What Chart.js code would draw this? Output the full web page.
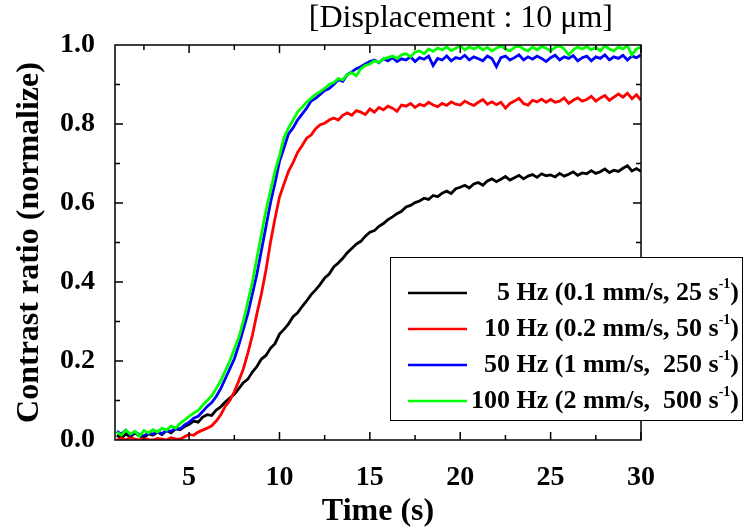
<!DOCTYPE html>
<html>
<head>
<meta charset="utf-8">
<script src="https://cdn.jsdelivr.net/npm/chart.js@4"></script>
<style>
  html, body { margin: 0; padding: 0; background: #fff; }
  #wrap { width: 745px; height: 531px; }
</style>
</head>
<body>
<div id="wrap"><canvas id="contrastChart" width="745" height="531"></canvas></div>
<script>
// time in seconds, one row = 2 s
const time = [
  1, 1.25, 1.5, 1.75, 2, 2.25, 2.5, 2.75,
  3, 3.25, 3.5, 3.75, 4, 4.25, 4.5, 4.75,
  5, 5.25, 5.5, 5.75, 6, 6.25, 6.5, 6.75,
  7, 7.25, 7.5, 7.75, 8, 8.25, 8.5, 8.75,
  9, 9.25, 9.5, 9.75, 10, 10.25, 10.5, 10.75,
  11, 11.25, 11.5, 11.75, 12, 12.25, 12.5, 12.75,
  13, 13.25, 13.5, 13.75, 14, 14.25, 14.5, 14.75,
  15, 15.25, 15.5, 15.75, 16, 16.25, 16.5, 16.75,
  17, 17.25, 17.5, 17.75, 18, 18.25, 18.5, 18.75,
  19, 19.25, 19.5, 19.75, 20, 20.25, 20.5, 20.75,
  21, 21.25, 21.5, 21.75, 22, 22.25, 22.5, 22.75,
  23, 23.25, 23.5, 23.75, 24, 24.25, 24.5, 24.75,
  25, 25.25, 25.5, 25.75, 26, 26.25, 26.5, 26.75,
  27, 27.25, 27.5, 27.75, 28, 28.25, 28.5, 28.75,
  29, 29.25, 29.5, 29.75, 30];

const hz5 = [
  0.012, 0.005, 0.015, 0.008, 0.018, 0.01, 0.006, 0.016,
  0.012, 0.02, 0.014, 0.024, 0.018, 0.028, 0.026, 0.034,
  0.04, 0.048, 0.045, 0.058, 0.064, 0.062, 0.076, 0.084,
  0.096, 0.106, 0.116, 0.13, 0.145, 0.154, 0.172, 0.186,
  0.205, 0.214, 0.232, 0.244, 0.268, 0.28, 0.294, 0.312,
  0.322, 0.338, 0.352, 0.368, 0.38, 0.394, 0.41, 0.42,
  0.438, 0.448, 0.46, 0.474, 0.485, 0.496, 0.503, 0.516,
  0.526, 0.53, 0.541, 0.548, 0.558, 0.565, 0.573, 0.579,
  0.59, 0.594, 0.601, 0.605, 0.612, 0.609, 0.619, 0.616,
  0.625, 0.63, 0.624, 0.636, 0.64, 0.645, 0.638, 0.648,
  0.652, 0.645, 0.656, 0.661, 0.654, 0.66, 0.667, 0.658,
  0.664, 0.67, 0.661, 0.668, 0.672, 0.665, 0.674, 0.669,
  0.671, 0.666, 0.675, 0.668, 0.673, 0.679, 0.67, 0.676,
  0.674, 0.682, 0.675, 0.679, 0.686, 0.677, 0.683, 0.68,
  0.688, 0.694, 0.681, 0.687, 0.68];

const hz10 = [
  0.0, 0.004, 0.0, 0.006, 0.002, 0.0, 0.005, 0.001,
  0.0, 0.004, 0.002, 0.0, 0.006, 0.003, 0.002, 0.008,
  0.014, 0.012, 0.02, 0.025, 0.03, 0.036, 0.048, 0.064,
  0.085, 0.1, 0.122, 0.15, 0.18, 0.22, 0.265, 0.32,
  0.37, 0.43, 0.5, 0.56, 0.615, 0.648, 0.68, 0.702,
  0.728, 0.745, 0.764, 0.772, 0.788, 0.798, 0.802, 0.81,
  0.815, 0.81, 0.822, 0.828, 0.822, 0.834, 0.83, 0.824,
  0.838, 0.83, 0.842, 0.836, 0.845, 0.84, 0.832, 0.848,
  0.845, 0.852, 0.842, 0.85, 0.846, 0.855, 0.848, 0.844,
  0.852, 0.847, 0.856, 0.85, 0.848, 0.858, 0.852, 0.847,
  0.855, 0.862, 0.85, 0.856, 0.849, 0.855, 0.84, 0.852,
  0.858, 0.865, 0.852, 0.848, 0.86, 0.856, 0.863, 0.855,
  0.862, 0.855, 0.858, 0.866, 0.852, 0.86, 0.866, 0.858,
  0.862, 0.87, 0.858, 0.866, 0.872, 0.86, 0.868, 0.876,
  0.868, 0.878, 0.864, 0.874, 0.86];

const hz50 = [
  0.022, 0.015, 0.025, 0.012, 0.02, 0.014, 0.01, 0.018,
  0.015, 0.022, 0.016, 0.024, 0.022, 0.03, 0.028, 0.038,
  0.045, 0.055, 0.06, 0.072, 0.085, 0.095, 0.11, 0.13,
  0.155, 0.18, 0.205, 0.24, 0.28, 0.32, 0.37, 0.42,
  0.48, 0.54, 0.6, 0.65, 0.705, 0.74, 0.775, 0.79,
  0.81, 0.825, 0.84, 0.858, 0.865, 0.875, 0.885, 0.89,
  0.9, 0.912, 0.908, 0.925, 0.932, 0.94, 0.945, 0.952,
  0.958, 0.962, 0.955, 0.965, 0.96, 0.968, 0.958, 0.965,
  0.962, 0.97, 0.958, 0.968, 0.964, 0.972, 0.948, 0.966,
  0.962, 0.972, 0.96, 0.968, 0.965, 0.974, 0.962, 0.97,
  0.965, 0.96, 0.972, 0.966, 0.945, 0.968, 0.972, 0.962,
  0.968, 0.975, 0.962, 0.97, 0.964, 0.972, 0.966, 0.958,
  0.968, 0.974, 0.962, 0.97, 0.966, 0.973, 0.96, 0.968,
  0.972, 0.96, 0.97, 0.966, 0.975, 0.962, 0.97, 0.966,
  0.974, 0.962, 0.972, 0.968, 0.975];

const hz100 = [
  0.02, 0.012, 0.025, 0.015, 0.022, 0.01, 0.024, 0.018,
  0.026, 0.02, 0.03, 0.025, 0.035, 0.03, 0.042, 0.05,
  0.06, 0.068, 0.075, 0.088, 0.1, 0.112, 0.13, 0.15,
  0.175, 0.2, 0.23, 0.26, 0.3, 0.35, 0.4, 0.46,
  0.52, 0.58, 0.63, 0.68, 0.72, 0.765, 0.79, 0.81,
  0.83, 0.842, 0.855, 0.865, 0.875, 0.882, 0.89, 0.9,
  0.905, 0.915, 0.912, 0.925, 0.93, 0.922, 0.94, 0.948,
  0.952, 0.96, 0.956, 0.965, 0.968, 0.972, 0.966, 0.975,
  0.978, 0.97, 0.982, 0.985, 0.978, 0.99, 0.984, 0.992,
  0.988, 0.995, 0.986, 0.992, 0.998, 0.988, 0.995, 0.99,
  0.996, 0.988, 0.994, 0.985, 0.992, 0.998, 0.99, 0.985,
  0.994, 0.998, 0.99, 0.985, 0.995, 0.988, 0.996, 0.992,
  0.985, 0.994, 0.998, 0.99, 0.975, 0.988, 0.995, 0.99,
  0.996, 0.988, 0.994, 0.985, 0.998, 0.99, 0.985, 0.995,
  0.99, 0.998, 0.975, 0.99, 0.995];

const xTicks = [5, 10, 15, 20, 25, 30];
const yTicks = [0, 0.2, 0.4, 0.6, 0.8, 1.0];
const seriesNames = ['5 Hz (0.1 mm/s, 25 s', '10 Hz (0.2 mm/s, 50 s', '50 Hz (1 mm/s,  250 s', '100 Hz (2 mm/s,  500 s'];
const seriesColors = ['#000000', '#ff0000', '#0000ff', '#00ff00'];
const seriesData = [hz5, hz10, hz50, hz100];

const serif = "'Liberation Serif', 'Times New Roman', serif";

// box, inward ticks, title text and legend
const framePlugin = {
  id: 'framePlugin',
  afterDraw(chart) {
    const {ctx, chartArea: {top, bottom, left, right}, scales: {x, y}} = chart;
    ctx.save();
    ctx.strokeStyle = '#000';
    ctx.lineWidth = 1.5;
    ctx.strokeRect(left, top, right - left, bottom - top);
    ctx.beginPath();
    for (let v = 2.5; v <= 30; v += 2.5) {
      const px = x.getPixelForValue(v);
      const len = v % 5 === 0 ? 8 : 5;
      ctx.moveTo(px, bottom); ctx.lineTo(px, bottom - len);
      ctx.moveTo(px, top); ctx.lineTo(px, top + len);
    }
    for (let i = 1; i < 10; i++) {
      const py = y.getPixelForValue(i / 10);
      const len = i % 2 === 0 ? 8 : 5;
      ctx.moveTo(left, py); ctx.lineTo(left + len, py);
      ctx.moveTo(right, py); ctx.lineTo(right - len, py);
    }
    ctx.stroke();

    ctx.fillStyle = '#000';
    ctx.font = '32px ' + serif;
    ctx.textAlign = 'right';
    ctx.textBaseline = 'middle';
    ctx.fillText('[Displacement : 10 \u03bcm]', 613, 19);

    // legend
    const bx = 390, by = 257, bw = 352, bh = 163;
    ctx.fillStyle = '#fff';
    ctx.fillRect(bx, by, bw, bh);
    ctx.lineWidth = 1;
    ctx.strokeRect(bx + 0.5, by + 0.5, bw, bh);
    seriesNames.forEach((name, i) => {
      const ry = by + 36 + i * 36;
      ctx.strokeStyle = seriesColors[i];
      ctx.lineWidth = 2.5;
      ctx.beginPath();
      ctx.moveTo(408, ry); ctx.lineTo(467, ry);
      ctx.stroke();
      ctx.fillStyle = '#000';
      ctx.textAlign = 'right';
      ctx.font = 'bold 26px ' + serif;
      const paren = ctx.measureText(')').width;
      ctx.fillText(')', 739, ry);
      ctx.font = 'bold 14px ' + serif;
      const sup = ctx.measureText('-1').width;
      ctx.fillText('-1', 739 - paren, ry - 9);
      ctx.font = 'bold 26px ' + serif;
      ctx.fillText(name, 739 - paren - sup, ry);
    });
    ctx.restore();
  }
};

const config = {
  type: 'line',
  data: {
    labels: time,
    datasets: seriesData.map((d, i) => ({
      label: seriesNames[i],
      data: time.map((t, k) => ({x: t, y: d[k]})),
      borderColor: seriesColors[i],
      borderWidth: 2.8,
      pointRadius: 0,
      tension: 0,
      order: 3 - i
    }))
  },
  options: {
    responsive: false,
    animation: false,
    layout: {padding: {left: 0, top: 45, right: 104, bottom: 0}},
    plugins: {legend: {display: false}, tooltip: {enabled: false}},
    scales: {
      x: {
        type: 'linear',
        min: 0.9,
        max: 30,
        afterBuildTicks: s => { s.ticks = xTicks.map(v => ({value: v})); },
        afterFit: s => { s.height = 91; },
        grid: {display: false},
        border: {display: false},
        ticks: {color: '#000', padding: 13, font: {family: serif, size: 28, weight: 'bold'}},
        title: {display: true, text: 'Time (s)', color: '#000', padding: {top: 0, bottom: 0},
          font: {family: serif, size: 32, weight: 'bold'}}
      },
      y: {
        min: 0,
        max: 1,
        afterBuildTicks: s => { s.ticks = yTicks.map(v => ({value: v})); },
        afterFit: s => { s.width = 115; },
        grid: {display: false},
        border: {display: false},
        ticks: {color: '#000', padding: 12, callback: v => v.toFixed(1),
          font: {family: serif, size: 28, weight: 'bold'}},
        title: {display: true, text: 'Contrast ratio (normalize)', color: '#000', padding: {top: 11, bottom: 0},
          font: {family: serif, size: 32, weight: 'bold'}}
      }
    }
  },
  plugins: [framePlugin]
};

const contrastChart = new Chart(document.getElementById('contrastChart'), config);
</script>
</body>
</html>
